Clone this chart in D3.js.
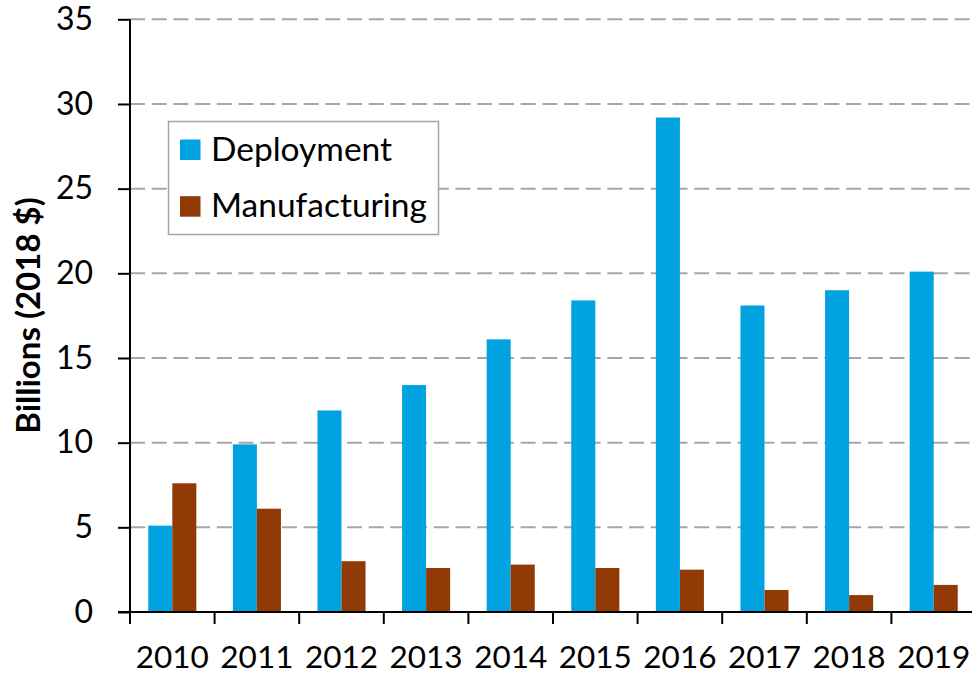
<!DOCTYPE html>
<html>
<head>
<meta charset="utf-8">
<script src="https://cdn.jsdelivr.net/npm/d3@7"></script>
<style>
  html, body { margin: 0; padding: 0; background: #fff; }
  svg { display: block; }
  text { font-family: Lato, "Open Sans", sans-serif; fill: #000; }
</style>
</head>
<body>
<svg id="chart" width="972" height="675"></svg>
<script>
const years = ["2010","2011","2012","2013","2014","2015","2016","2017","2018","2019"];
const deployment = [5.1, 9.9, 11.9, 13.4, 16.1, 18.4, 29.2, 18.1, 19.0, 20.1];
const manufacturing = [7.6, 6.1, 3.0, 2.6, 2.8, 2.6, 2.5, 1.3, 1.0, 1.6];
const seriesNames = ["Deployment", "Manufacturing"];
const seriesColors = ["#00A3E0", "#923A05"];
const yTicks = [0, 5, 10, 15, 20, 25, 30, 35];
const yTitle = "Billions (2018 $)";

const svg = d3.select("#chart");
const pLeft = 130, pRight = 976, pTop = 19.3, pBottom = 612;

const x = d3.scaleBand().domain(years).range([pLeft, pRight]).paddingInner(0).paddingOuter(0);
const xs = d3.scaleBand().domain(seriesNames).range([0, x.bandwidth()]).paddingInner(0).paddingOuter(0.76);
const y = d3.scaleLinear().domain([0, 35]).range([pBottom, pTop]);

// gridlines
svg.append("g").selectAll("line").data(yTicks.filter(d => d > 0)).join("line")
  .attr("x1", pLeft).attr("x2", 972)
  .attr("y1", d => y(d)).attr("y2", d => y(d))
  .attr("stroke", "#a6a6a6").attr("stroke-width", 2)
  .attr("stroke-dasharray", "15,6.7");

// bars
const data = [deployment, manufacturing];
seriesNames.forEach((s, si) => {
  svg.append("g").selectAll("rect").data(years).join("rect")
    .attr("x", d => x(d) + xs(s))
    .attr("width", xs.bandwidth())
    .attr("y", (d, i) => y(data[si][i]))
    .attr("height", (d, i) => y(0) - y(data[si][i]))
    .attr("fill", seriesColors[si]);
});

// y axis
const yAxis = d3.axisLeft(y).tickValues(yTicks).tickSize(12).tickPadding(25).tickSizeOuter(0);
const gy = svg.append("g").attr("transform", `translate(${pLeft},0)`).call(yAxis);
gy.select(".domain").attr("stroke", "#000").attr("stroke-width", 2).attr("d", `M0,${pTop}V${pBottom + 12}`);
gy.selectAll(".tick line").attr("stroke", "#000").attr("stroke-width", 2);
gy.selectAll(".tick text").style("font-family", "Lato, sans-serif").style("font-size", "32px").attr("fill", "#000");

// x axis
const xAxis = d3.axisBottom(x).tickSize(0).tickPadding(0).tickSizeOuter(0);
const gx = svg.append("g").attr("transform", `translate(0,${pBottom})`).call(xAxis);
gx.select(".domain").attr("stroke", "#000").attr("stroke-width", 2).attr("d", `M${pLeft - 12},0H972`);
gx.selectAll(".tick text").style("font-family", "Lato, sans-serif").style("font-size", "31.5px")
  .attr("fill", "#000").attr("y", 56).attr("dy", 0);
// category separators
gx.append("g").selectAll("line").data(years.slice(1)).join("line")
  .attr("x1", d => x(d)).attr("x2", d => x(d)).attr("y1", 0).attr("y2", 12)
  .attr("stroke", "#000").attr("stroke-width", 2);

// y title
svg.append("text")
  .attr("transform", `translate(40,315.5) rotate(-90)`)
  .attr("text-anchor", "middle")
  .style("font-size", "33px").style("font-weight", "bold")
  .text(yTitle);

// legend
const lg = svg.append("g");
lg.append("rect").attr("x", 168.5).attr("y", 121.5).attr("width", 270).attr("height", 113)
  .attr("fill", "#fff").attr("stroke", "#a6a6a6").attr("stroke-width", 1.5);
seriesNames.forEach((s, i) => {
  lg.append("rect").attr("x", 180).attr("y", 139.5 + i * 56.7).attr("width", 20.5).attr("height", 20.5)
    .attr("fill", seriesColors[i]);
  lg.append("text").attr("x", 211).attr("y", 160.5 + i * 56.7)
    .style("font-size", "33.5px").text(s);
});
</script>
</body>
</html>
